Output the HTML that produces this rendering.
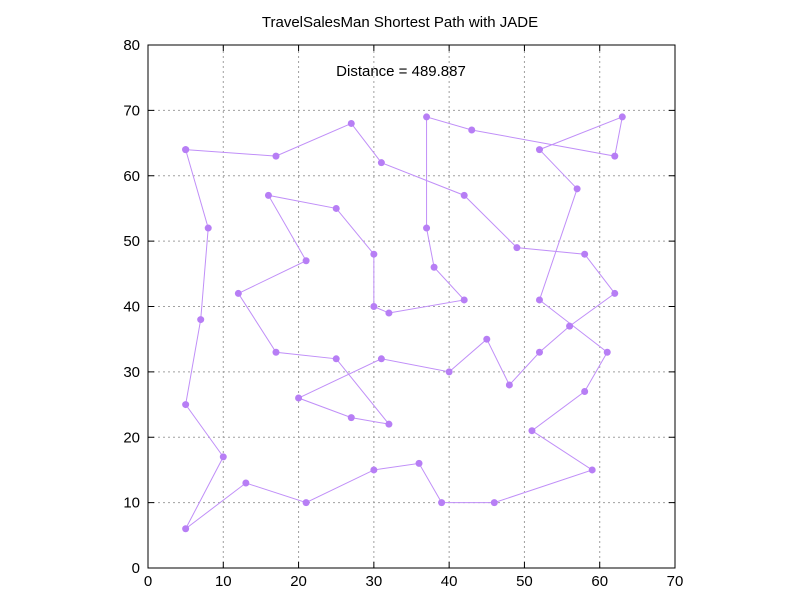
<!DOCTYPE html>
<html><head><meta charset="utf-8"><style>
body{margin:0;background:#fff}
svg{display:block;font-family:"Liberation Sans",sans-serif}
</style></head><body>
<svg width="800" height="600">
<rect width="800" height="600" fill="#fff"/>
<text x="400" y="27" text-anchor="middle" font-size="15">TravelSalesMan Shortest Path with JADE</text>
<g id="grid"></g>
<g id="path"></g>
<rect x="148" y="45" width="527" height="523" fill="none" stroke="#000" stroke-width="1"/>
<g id="ticks" font-size="15"></g>
<text x="401" y="76" text-anchor="middle" font-size="15">Distance = 489.887</text>
</svg>
<script>
const xTicks=[0,10,20,30,40,50,60,70];
const yTicks=[0,10,20,30,40,50,60,70,80];
const routeX=[5,17,27,31,42,49,58,62,56,52,48,45,40,31,20,27,32,25,17,12,21,16,25,30,30,32,42,38,37,37,43,62,63,52,57,52,61,58,51,59,46,39,36,30,21,13,5,10,5,7,8,5];
const routeY=[64,63,68,62,57,49,48,42,37,33,28,35,30,32,26,23,22,32,33,42,47,57,55,48,40,39,41,46,52,69,67,63,69,64,58,41,33,27,21,15,10,10,16,15,10,13,6,17,25,38,52,64];
const X0=148,X1=675,Y0=568,Y1=45;
const sx=v=>X0+(v-0)/(70-0)*(X1-X0);
const sy=v=>Y0-(v-0)/(80-0)*(Y0-Y1);
const NS="http://www.w3.org/2000/svg";
function mk(t,a,p){const e=document.createElementNS(NS,t);for(const k in a)e.setAttribute(k,a[k]);p.appendChild(e);return e;}
const grid=document.getElementById('grid'),ticks=document.getElementById('ticks'),path=document.getElementById('path');
xTicks.forEach(v=>{const x=sx(v);
 if(v>0&&v<70){const l=mk('line',{x1:x,x2:x,y1:Y0,y2:Y1,stroke:'#a0a0a0','stroke-dasharray':'2,3'},grid);
 
 }
 mk('line',{x1:x,x2:x,y1:Y0,y2:Y0-6,stroke:'#000'},ticks);mk('line',{x1:x,x2:x,y1:Y1,y2:Y1+6,stroke:'#000'},ticks);
 const t=mk('text',{x:x,y:Y0+18,'text-anchor':'middle'},ticks);t.textContent=v;
 
 });
yTicks.forEach(v=>{const y=sy(v);
 if(v>0&&v<80){const l=mk('line',{x1:X0,x2:X1,y1:y,y2:y,stroke:'#a0a0a0','stroke-dasharray':'2,3'},grid);
 
 }
 mk('line',{x1:X0,x2:X0+6,y1:y,y2:y,stroke:'#000'},ticks);mk('line',{x1:X1,x2:X1-6,y1:y,y2:y,stroke:'#000'},ticks);
 const t=mk('text',{x:X0-8,y:y+5,'text-anchor':'end'},ticks);t.textContent=v;
 
 });
const pl=mk('polyline',{points:routeX.map((v,i)=>sx(v)+','+sy(routeY[i])).join(' '),fill:'none',stroke:'#c08ff8','stroke-width':1},path);


routeX.forEach((v,i)=>{const c=mk('circle',{cx:sx(v),cy:sy(routeY[i]),r:3.5,fill:'#b77ef5'},path);
 
 });
</script>
</body></html>
